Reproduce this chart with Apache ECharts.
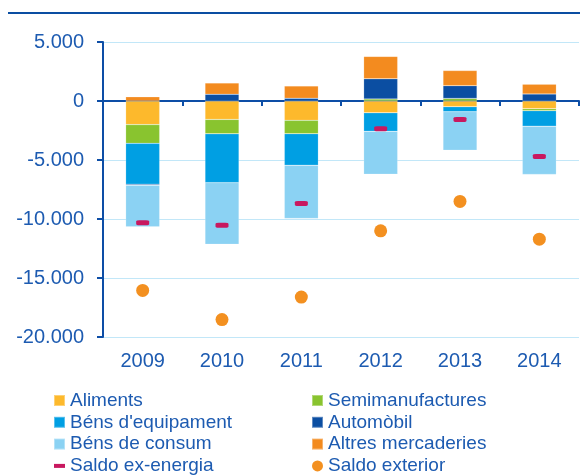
<!DOCTYPE html>
<html>
<head>
<meta charset="utf-8">
<script src="https://cdn.jsdelivr.net/npm/echarts@6/dist/echarts.min.js"></script>
<style>
  html, body { margin: 0; padding: 0; background: #fff; }
  #chart { width: 580px; height: 475px; }
</style>
</head>
<body>
<div id="chart"></div>
<script>
const years = ['2009', '2010', '2011', '2012', '2013', '2014'];
const aliments = [-2000, -1560, -1640, -1000, -480, -650];
const semimanufactures = [-1590, -1220, -1130, 180, 220, -170];
const bensEquipament = [-3460, -4140, -2670, -1570, -430, -1310];
const automobil = [-100, 570, 230, 1700, 1080, 600];
const bensConsum = [-3500, -5220, -4510, -3630, -3260, -4090];
const altres = [350, 960, 1050, 1900, 1280, 830];
const saldoExEnergia = [-10320, -10520, -8680, -2350, -1560, -4710];
const saldoExterior = [-16050, -18520, -16620, -11000, -8510, -11710];

const font = 'Liberation Sans, Arial, sans-serif';
const textColor = '#1d5bb1';
const axisColor = '#0d4ea6';

function bar(name, data, color) {
  return {
    name, type: 'bar', stack: 'total', data, barWidth: 34,
    itemStyle: { color, borderColor: 'rgba(255,255,255,0.35)', borderWidth: 0.5 }
  };
}

const legendText = { fontSize: 19, lineHeight: 21, color: textColor, fontFamily: font };

const myChart = echarts.init(document.getElementById('chart'));
myChart.setOption({
  animation: false,
  textStyle: { fontFamily: font },
  graphic: [{
    type: 'line', shape: { x1: 8, y1: 13, x2: 580, y2: 13 },
    style: { stroke: '#0a4ea2', lineWidth: 2 }
  }],
  grid: { left: 103, right: 1, top: 42, bottom: 138 },
  xAxis: [{
    type: 'category', data: years, position: 'bottom',
    axisLine: { show: false, onZero: false },
    axisTick: { show: false },
    axisLabel: { fontSize: 20, color: textColor, margin: 14, fontFamily: font }
  }, {
    type: 'category', data: years, position: 'bottom',
    axisLine: { onZero: true, lineStyle: { color: axisColor, width: 2 } },
    axisTick: { show: true, length: 5, lineStyle: { color: axisColor, width: 2 } },
    axisLabel: { show: false }
  }],
  yAxis: {
    type: 'value', min: -20000, max: 5000, interval: 5000,
    axisLine: { show: true, lineStyle: { color: axisColor, width: 2 } },
    axisTick: { show: true, length: 6, lineStyle: { color: axisColor, width: 2 } },
    splitLine: { lineStyle: { color: '#c2e7f8', width: 1 } },
    axisLabel: {
      fontSize: 20, color: textColor, margin: 19, fontFamily: font,
      formatter: v => (v < 0 ? '-' : '') + Math.abs(v).toString().replace(/\B(?=(\d{3})+(?!\d))/g, '.')
    }
  },
  legend: [{
    orient: 'vertical', left: 53, top: 390, height: 90, padding: 0,
    itemWidth: 11, itemHeight: 11, itemGap: 0.8, textStyle: legendText,
    data: [
      { name: 'Aliments', icon: 'rect' },
      { name: "Béns d'equipament", icon: 'rect' },
      { name: 'Béns de consum', icon: 'rect' },
      { name: 'Saldo ex-energia', icon: 'path://M0,0L11,0L11,4L0,4Z' }
    ]
  }, {
    orient: 'vertical', left: 311, top: 390, height: 90, padding: 0,
    itemWidth: 11, itemHeight: 11, itemGap: 0.8, textStyle: legendText,
    data: [
      { name: 'Semimanufactures', icon: 'rect' },
      { name: 'Automòbil', icon: 'rect' },
      { name: 'Altres mercaderies', icon: 'rect' },
      { name: 'Saldo exterior', icon: 'circle' }
    ]
  }],
  series: [
    bar('Aliments', aliments, '#fdb92c'),
    bar('Semimanufactures', semimanufactures, '#89c42f'),
    bar("Béns d'equipament", bensEquipament, '#009fe3'),
    bar('Automòbil', automobil, '#0b4ea2'),
    bar('Béns de consum', bensConsum, '#8bd2f3'),
    bar('Altres mercaderies', altres, '#f38b1f'),
    {
      name: 'Saldo ex-energia', type: 'scatter', data: saldoExEnergia, z: 5,
      symbol: 'roundRect', symbolSize: [13, 5], itemStyle: { color: '#c8185f', opacity: 1 }
    },
    {
      name: 'Saldo exterior', type: 'scatter', data: saldoExterior, z: 5,
      symbol: 'circle', symbolSize: 13, itemStyle: { color: '#f39020', opacity: 1 }
    }
  ]
});
</script>
</body>
</html>
